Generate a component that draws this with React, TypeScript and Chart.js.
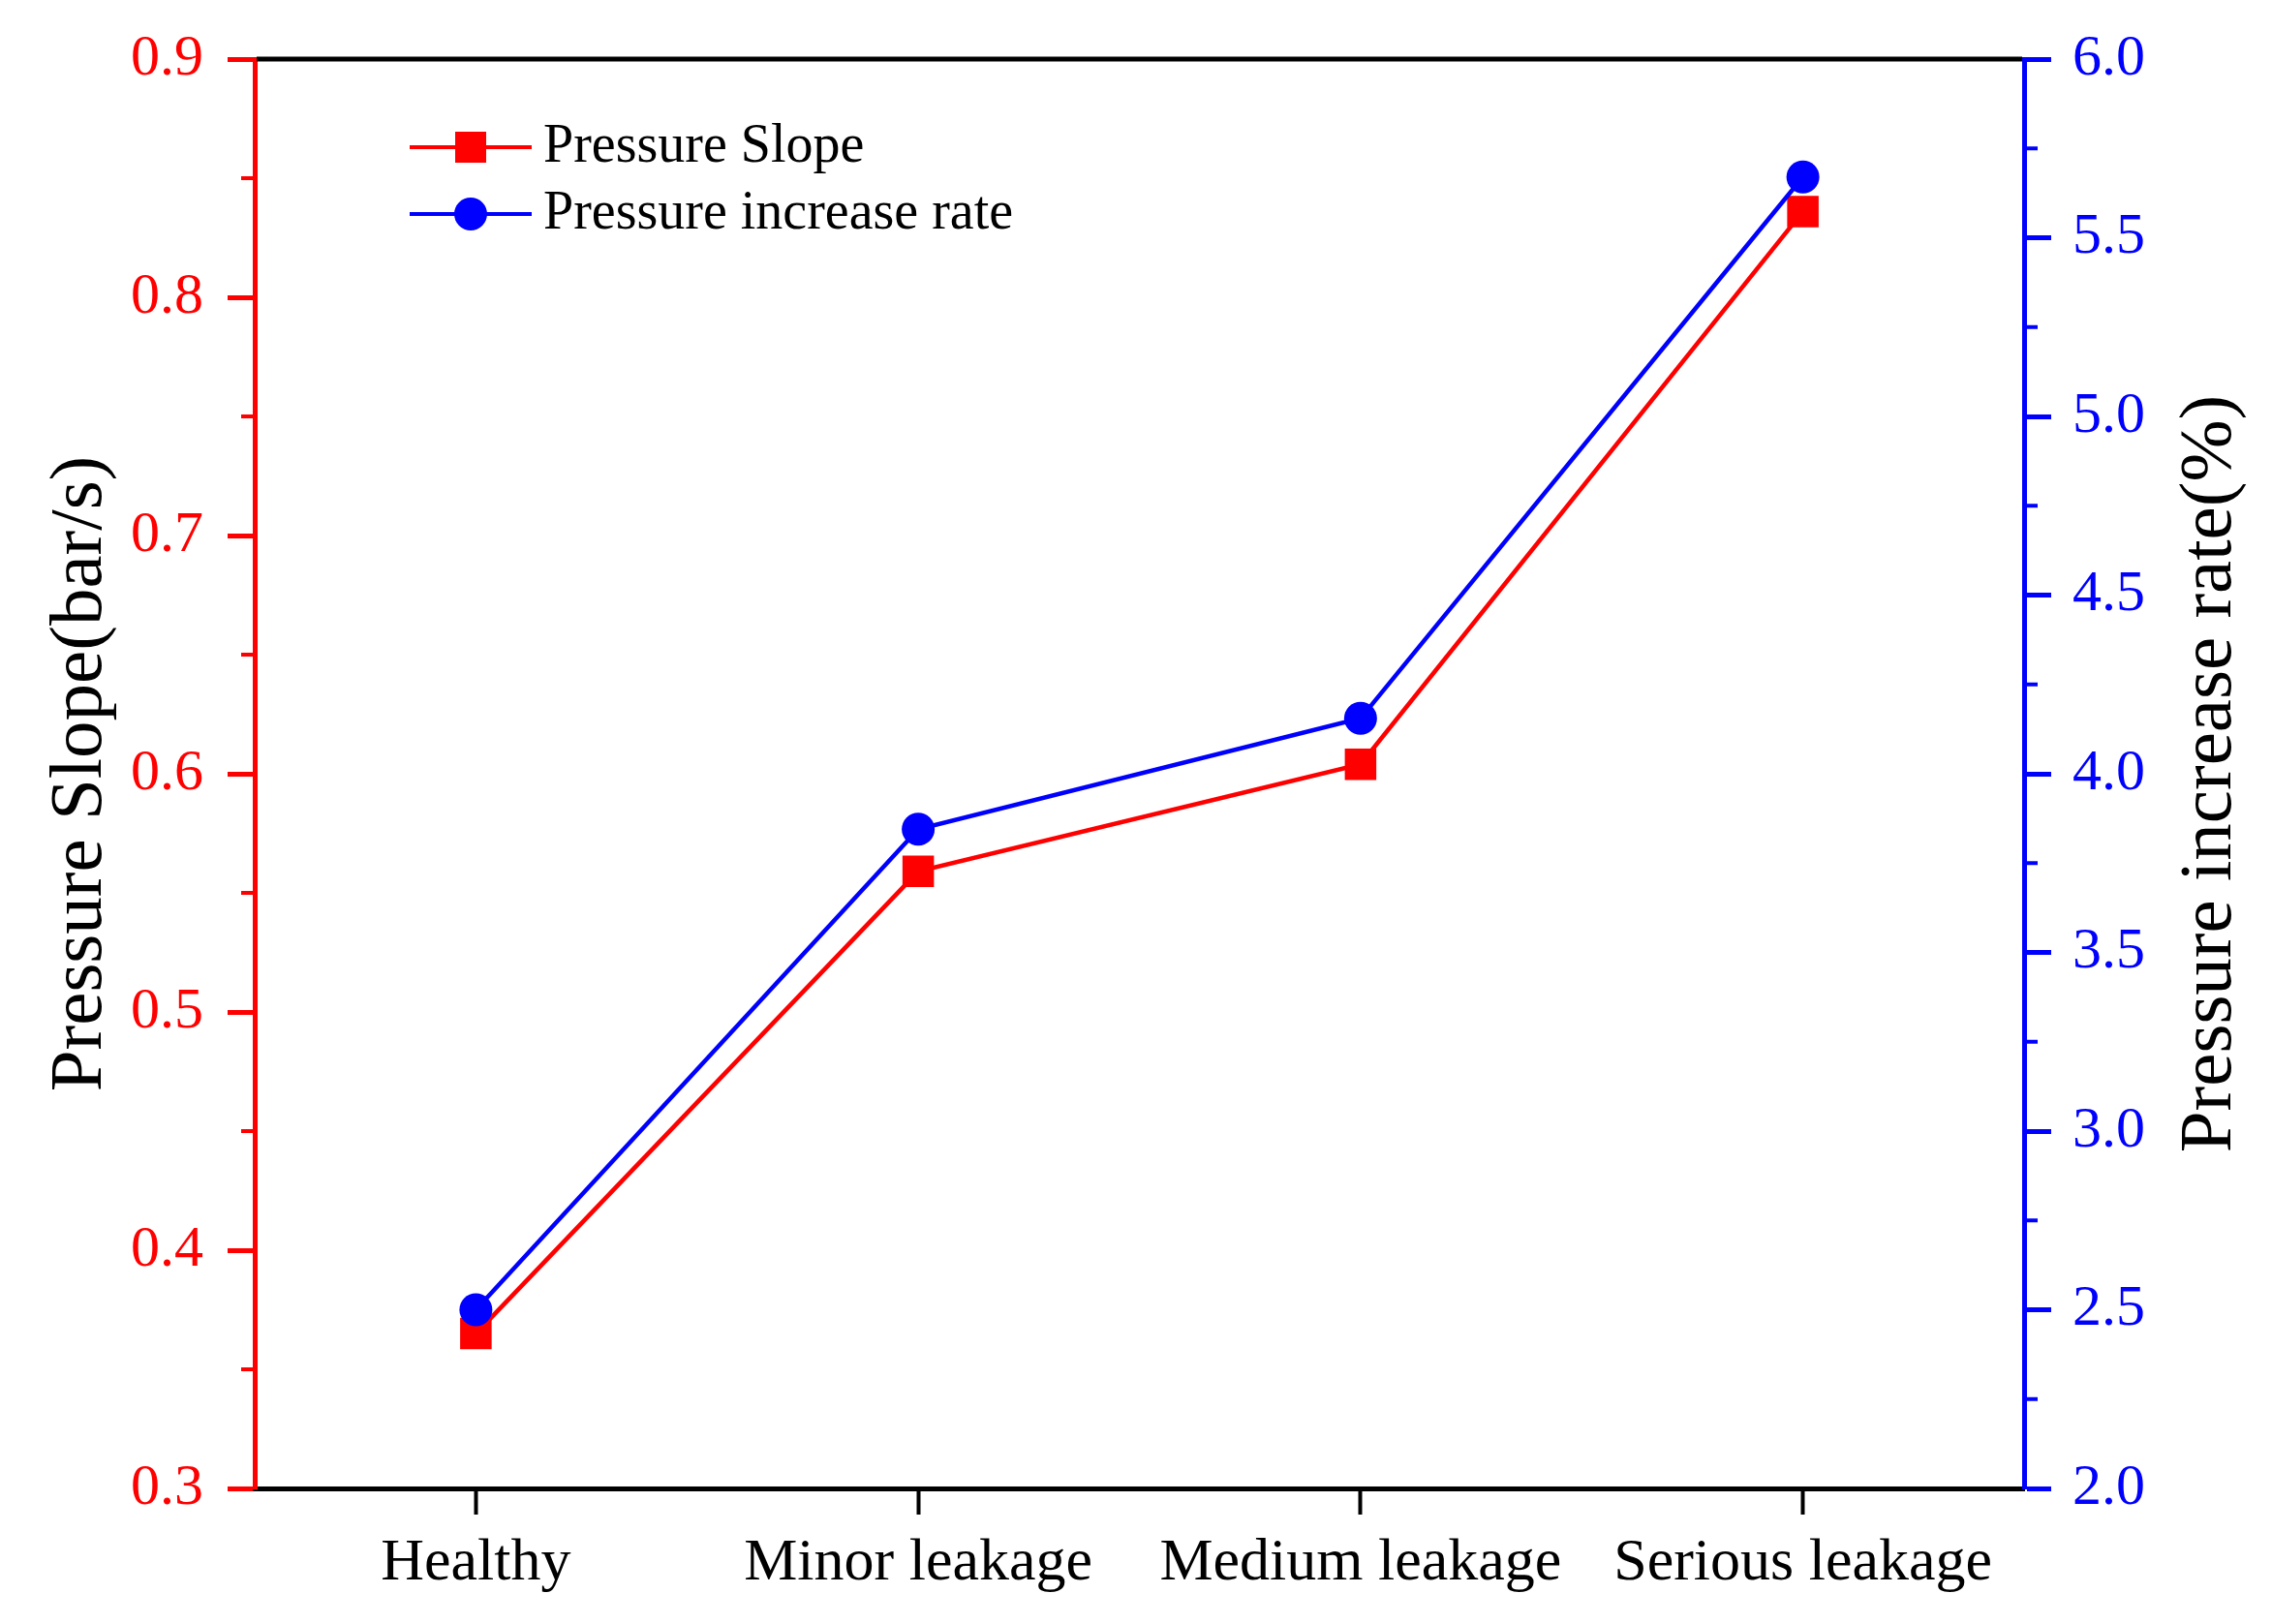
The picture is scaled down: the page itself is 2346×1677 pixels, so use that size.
import React, { useEffect, useRef } from 'react';
import { Chart, registerables } from 'chart.js';

Chart.register(...registerables);

const categories = ['Healthy', 'Minor leakage', 'Medium leakage', 'Serious leakage'];
const pressureSlope = [0.365, 0.559, 0.604, 0.836];
const pressureIncreaseRate = [2.5, 3.845, 4.155, 5.67];
const leftTickValues = [0.3, 0.4, 0.5, 0.6, 0.7, 0.8, 0.9];
const rightTickValues = [2.0, 2.5, 3.0, 3.5, 4.0, 4.5, 5.0, 5.5, 6.0];
const seriesNames = ['Pressure Slope', 'Pressure increase rate'];
const leftAxisTitle = 'Pressure Slope(bar/s)';
const rightAxisTitle = 'Pressure increase rate(%)';

const FONT = '"Liberation Serif", "Times New Roman", serif';
const RED = '#ff0000';
const BLUE = '#0000ff';

const W = 2346;
const H = 1677;

const decorPlugin = {
  id: 'decor',
  afterDraw(chart: any) {
    const ctx = chart.ctx;
    const area = chart.chartArea;
    const yL = chart.scales.y;
    const yR = chart.scales.y1;
    ctx.save();

    // minor ticks
    const drawMinor = (scale: any, color: string, side: 'left' | 'right') => {
      const vals = scale.ticks.map((t: any) => t.value);
      ctx.strokeStyle = color;
      ctx.lineWidth = 4;
      for (let i = 0; i < vals.length - 1; i++) {
        const mid = (vals[i] + vals[i + 1]) / 2;
        const py = scale.getPixelForValue(mid);
        ctx.beginPath();
        if (side === 'left') {
          ctx.moveTo(area.left - 14, py);
          ctx.lineTo(area.left, py);
        } else {
          ctx.moveTo(area.right, py);
          ctx.lineTo(area.right + 14, py);
        }
        ctx.stroke();
      }
    };
    drawMinor(yL, RED, 'left');
    drawMinor(yR, BLUE, 'right');

    // top frame line
    ctx.strokeStyle = '#000000';
    ctx.lineWidth = 5;
    ctx.beginPath();
    ctx.moveTo(area.left + 2, area.top);
    ctx.lineTo(area.right - 2, area.top);
    ctx.stroke();

    // axis titles
    const cy = (area.top + area.bottom) / 2;
    ctx.fillStyle = '#000000';
    ctx.font = `77px ${FONT}`;
    ctx.textAlign = 'center';
    ctx.textBaseline = 'middle';
    ctx.save();
    ctx.translate(84, cy);
    ctx.rotate(-Math.PI / 2);
    ctx.fillText(leftAxisTitle, 0, 0);
    ctx.restore();
    ctx.save();
    ctx.translate(2283, cy);
    ctx.rotate(-Math.PI / 2);
    ctx.fillText(rightAxisTitle, 0, 0);
    ctx.restore();

    // legend
    const rows = [152, 221];
    chart.data.datasets.forEach((ds: any, i: number) => {
      const y = rows[i];
      ctx.strokeStyle = ds.borderColor;
      ctx.lineWidth = 4;
      ctx.beginPath();
      ctx.moveTo(423, y);
      ctx.lineTo(549, y);
      ctx.stroke();
      ctx.fillStyle = ds.pointBackgroundColor;
      const cx = 486;
      if (ds.pointStyle === 'rect') {
        ctx.fillRect(cx - 16, y - 16, 32, 32);
      } else {
        ctx.beginPath();
        ctx.arc(cx, y, 17, 0, Math.PI * 2);
        ctx.fill();
      }
      ctx.fillStyle = '#000000';
      ctx.font = `56px ${FONT}`;
      ctx.textAlign = 'left';
      ctx.textBaseline = 'middle';
      ctx.fillText(ds.label, 561, y);
    });

    ctx.restore();
  },
};

export default function App() {
  const canvasRef = useRef<HTMLCanvasElement | null>(null);

  useEffect(() => {
    const canvas = canvasRef.current;
    if (!canvas) return;
    const chart = new Chart(canvas, {
      type: 'line',
      data: {
        labels: categories,
        datasets: [
          {
            label: seriesNames[0],
            data: pressureSlope,
            yAxisID: 'y',
            borderColor: RED,
            backgroundColor: RED,
            pointBackgroundColor: RED,
            pointBorderColor: RED,
            pointBorderWidth: 0,
            pointStyle: 'rect',
            pointRadius: 23,
            borderWidth: 4.5,
            tension: 0,
            order: 2,
          },
          {
            label: seriesNames[1],
            data: pressureIncreaseRate,
            yAxisID: 'y1',
            borderColor: BLUE,
            backgroundColor: BLUE,
            pointBackgroundColor: BLUE,
            pointBorderColor: BLUE,
            pointBorderWidth: 0,
            pointStyle: 'circle',
            pointRadius: 17,
            borderWidth: 4.5,
            tension: 0,
            order: 1,
          },
        ],
      },
      options: {
        responsive: false,
        animation: false,
        devicePixelRatio: 1,
        layout: { padding: { top: 58, left: 0, right: 0, bottom: 0 } },
        plugins: {
          legend: { display: false },
          tooltip: { enabled: false },
          title: { display: false },
        },
        scales: {
          x: {
            type: 'category',
            offset: true,
            grid: {
              display: true,
              drawOnChartArea: false,
              drawTicks: true,
              tickLength: 27,
              tickColor: '#000000',
              tickWidth: 4,
            },
            border: { display: true, color: '#000000', width: 5 },
            ticks: {
              color: '#000000',
              font: { family: FONT, size: 62 },
              padding: 14,
              maxRotation: 0,
              autoSkip: false,
            },
            afterFit: (scale: any) => {
              scale.height = 140;
            },
          },
          y: {
            type: 'linear',
            position: 'left',
            min: 0.3,
            max: 0.9,
            afterBuildTicks: (scale: any) => {
              scale.ticks = leftTickValues.map((v) => ({ value: v }));
            },
            grid: {
              display: true,
              drawOnChartArea: false,
              drawTicks: true,
              tickLength: 28,
              tickColor: RED,
              tickWidth: 5,
            },
            border: { display: true, color: RED, width: 5 },
            ticks: {
              color: RED,
              font: { family: FONT, size: 60 },
              padding: 25,
              callback: (v: any) => Number(v).toFixed(1),
            },
            afterFit: (scale: any) => {
              scale.width = 263;
            },
          },
          y1: {
            type: 'linear',
            position: 'right',
            min: 2.0,
            max: 6.0,
            afterBuildTicks: (scale: any) => {
              scale.ticks = rightTickValues.map((v) => ({ value: v }));
            },
            grid: {
              display: true,
              drawOnChartArea: false,
              drawTicks: true,
              tickLength: 28,
              tickColor: BLUE,
              tickWidth: 5,
            },
            border: { display: true, color: BLUE, width: 5 },
            ticks: {
              color: BLUE,
              font: { family: FONT, size: 60 },
              padding: 22,
              callback: (v: any) => Number(v).toFixed(1),
            },
            afterFit: (scale: any) => {
              scale.width = W - 2090;
            },
          },
        },
      },
      plugins: [decorPlugin],
    });
    return () => {
      chart.destroy();
    };
  }, []);

  return (
    <div style={{ position: 'absolute', left: 0, top: 0, width: W, height: H, background: '#ffffff' }}>
      <canvas ref={canvasRef} width={W} height={H} style={{ width: W, height: H, display: 'block' }} />
    </div>
  );
}
